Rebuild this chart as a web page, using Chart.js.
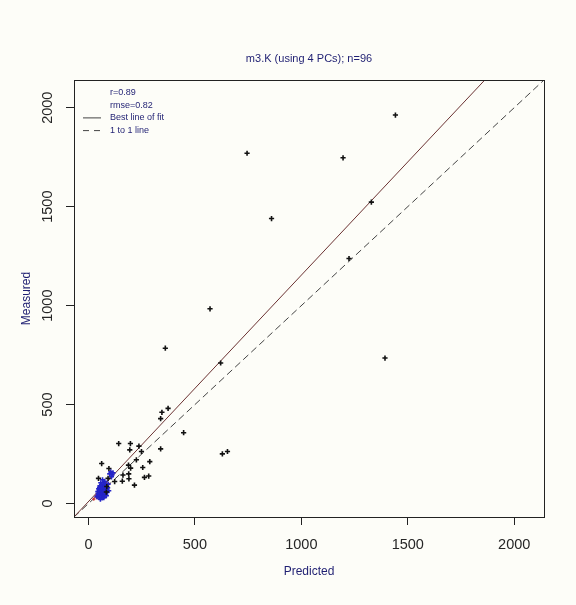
<!DOCTYPE html>
<html><head><meta charset="utf-8">
<script src="https://cdn.jsdelivr.net/npm/chart.js@4.4.1/dist/chart.umd.min.js"></script>
<style>html,body{margin:0;padding:0;background:#fdfdf8;}#wrap{width:576px;height:605px;}</style>
</head><body><div id="wrap"><canvas id="c" width="576" height="605"></canvas></div>
<script>
const chartTitle = 'm3.K (using 4 PCs); n=96';
const xAxisLabel = 'Predicted';
const yAxisLabel = 'Measured';
const tickValues = [0, 500, 1000, 1500, 2000];
const axisLimits = [-68, 2140];
const legendLabels = ['r=0.89', 'rmse=0.82', 'Best line of fit', '1 to 1 line'];
const fitSlope = 1.144;
const fitIntercept = 10;

const blackPredicted = [1442,1196,1329,1224,745,860,571,361,621,1393,374,345,339,447,339,629,653,288,142,197,194,237,249,225,188,198,62,96,255,162,189,263,283,159,190,216,47,92,123,86,84];
const blackMeasured  = [1963,1747,1523,1238,1770,1440,984,785,710,735,481,461,429,358,276,251,263,212,303,303,271,290,263,221,194,179,202,177,182,144,150,132,139,113,125,93,127,127,111,86,58];

const bluePredicted = [40,45,50,52,55,58,60,62,65,66,68,70,72,74,75,78,80,82,85,88,48,54,58,62,44,50,70,76,90,92,100,105,110,108,115,60,64,72,56,46,84,95,66,52,78];
const blueMeasured  = [35,42,30,55,48,62,40,70,52,85,45,60,78,95,38,66,50,88,72,58,75,90,105,95,60,68,105,112,80,98,150,160,145,135,155,80,28,30,22,50,40,65,120,82,100];

const redPredicted = [25,35,45,55,65,75,85,95,40,70];
const redMeasured  = [22,38,48,58,70,80,92,100,30,66];

const pairs = (xs, ys) => xs.map((x, i) => ({x: x, y: ys[i]}));
const fitLine = axisLimits.map(x => ({x: x, y: fitIntercept + fitSlope * x}));
const oneToOne = axisLimits.map(x => ({x: x, y: x}));

const NAVY = '#1f1f72';
const AXIS = '#222';
const FONT = '"Liberation Sans", Arial, sans-serif';

const bgPlugin = {
  id: 'bg',
  beforeDraw(chart) {
    const ctx = chart.ctx;
    ctx.save();
    ctx.fillStyle = '#fdfdf8';
    ctx.fillRect(0, 0, chart.width, chart.height);
    ctx.restore();
  },
  afterDatasetsDraw(chart) {
    const {ctx, chartArea: a} = chart;
    ctx.save();
    ctx.strokeStyle = AXIS;
    ctx.lineWidth = 1;
    ctx.strokeRect(a.left + 0.5, a.top + 0.5, a.right - a.left, a.bottom - a.top);
    // legend inside the plot
    const x0 = a.left + 36, lx1 = a.left + 9, lx2 = a.left + 27;
    const y0 = a.top + 12.5, dy = 12.7;
    ctx.font = '9px ' + FONT;
    ctx.fillStyle = NAVY;
    ctx.textBaseline = 'middle';
    ctx.textAlign = 'left';
    legendLabels.forEach((t, i) => ctx.fillText(t, x0, y0 + i * dy));
    ctx.strokeStyle = '#444';
    ctx.beginPath();
    ctx.moveTo(lx1, y0 + 2 * dy); ctx.lineTo(lx2, y0 + 2 * dy);
    ctx.stroke();
    ctx.setLineDash([6, 5]);
    ctx.beginPath();
    ctx.moveTo(lx1, y0 + 3 * dy); ctx.lineTo(lx2, y0 + 3 * dy);
    ctx.stroke();
    ctx.restore();
  }
};

const pointBase = {type: 'scatter', pointStyle: 'cross', pointRadius: 2.6, pointBorderWidth: 1.6, showLine: false};
const plainTick = v => String(v);

new Chart(document.getElementById('c'), {
  data: {
    datasets: [
      {...pointBase, label: 'black', data: pairs(blackPredicted, blackMeasured), borderColor: '#111', backgroundColor: '#111'},
      {...pointBase, label: 'blue', data: pairs(bluePredicted, blueMeasured), borderColor: '#2424c8', backgroundColor: '#2424c8'},
      {...pointBase, label: 'red', data: pairs(redPredicted, redMeasured), borderColor: '#d03030', backgroundColor: '#d03030', pointRadius: 1.6, pointBorderWidth: 1.2},
      {type: 'line', label: 'fit', data: fitLine, borderColor: '#6b3232', borderWidth: 1, pointRadius: 0, fill: false},
      {type: 'line', label: '1to1', data: oneToOne, borderColor: '#444', borderWidth: 1, borderDash: [7, 4], pointRadius: 0, fill: false}
    ]
  },
  options: {
    responsive: false,
    animation: false,
    layout: {padding: {left: 0, right: 32, top: 0, bottom: 0}},
    plugins: {
      legend: {display: false},
      tooltip: {enabled: false},
      title: {
        display: true, text: chartTitle, fullSize: false, color: NAVY,
        font: {family: FONT, size: 11, weight: 'normal', lineHeight: 1.2},
        padding: {top: 52.4, bottom: 14.4}
      }
    },
    scales: {
      x: {
        type: 'linear', position: 'bottom', min: axisLimits[0], max: axisLimits[1],
        afterBuildTicks: s => { s.ticks = tickValues.map(v => ({value: v})); },
        afterFit: s => { s.height = 88; },
        grid: {display: true, drawOnChartArea: false, drawTicks: true, tickLength: 8, color: AXIS},
        border: {display: true, color: AXIS},
        ticks: {callback: plainTick, color: '#262626', padding: 11, font: {family: FONT, size: 14.5}, maxRotation: 0},
        title: {display: true, text: xAxisLabel, color: NAVY, font: {family: FONT, size: 12}, padding: {top: 0, bottom: 25.8}}
      },
      y: {
        type: 'linear', position: 'left', min: axisLimits[0], max: axisLimits[1],
        afterBuildTicks: s => { s.ticks = tickValues.map(v => ({value: v})); },
        afterFit: s => { s.width = 74; },
        grid: {display: true, drawOnChartArea: false, drawTicks: true, tickLength: 8, color: AXIS},
        border: {display: true, color: AXIS},
        ticks: {callback: plainTick, color: '#262626', padding: 2, crossAlign: 'center', minRotation: 90, maxRotation: 90, font: {family: FONT, size: 14.5}},
        title: {display: true, text: yAxisLabel, color: NAVY, font: {family: FONT, size: 12}, padding: {top: 19.5, bottom: 0}}
      }
    }
  },
  plugins: [bgPlugin]
});
</script>
</body></html>
